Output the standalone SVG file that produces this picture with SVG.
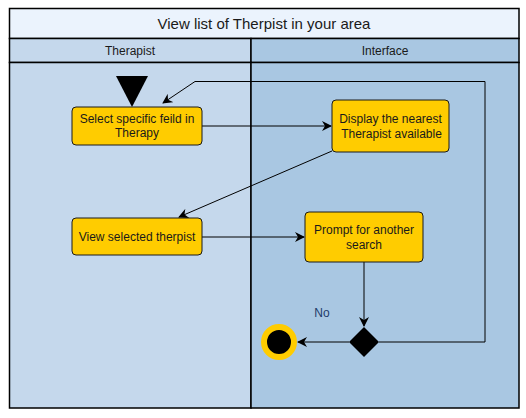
<svg xmlns="http://www.w3.org/2000/svg" width="526" height="418" viewBox="0 0 526 418">
<defs>
<style>
text{font-family:"Liberation Sans",Arial,sans-serif;fill:#1a1a1a;text-anchor:middle}
.node{fill:#FFCC00;stroke:#1a1a1a;stroke-width:1}
.node-text{font-size:12px}
.hdr{font-size:12px}
.conn{fill:none;stroke:#000;stroke-width:1}
.lane{stroke:#000;stroke-width:1.5}
</style>
<marker id="arr" viewBox="0 0 10 10" refX="9" refY="5" markerWidth="10" markerHeight="10" markerUnits="userSpaceOnUse" orient="auto">
<path d="M0,0 L10,5 L0,10 L3,5 Z" fill="#000"/>
</marker>
</defs>
<g id="pool">
<rect x="9.5" y="8.5" width="509.5" height="30" fill="#EBF3FD" class="lane"/>
<rect x="9.5" y="38.5" width="241.5" height="24" fill="#C5D8EC" class="lane"/>
<rect x="251" y="38.5" width="268" height="24" fill="#A9C7E2" class="lane"/>
<rect x="9.5" y="62.5" width="241.5" height="345.5" fill="#C5D8EC" class="lane"/>
<rect x="251" y="62.5" width="268" height="345.5" fill="#A9C7E2" class="lane"/>
<text x="264" y="29" style="font-size:15px">View list of Therpist in your area</text>
<text x="130" y="55" class="hdr">Therapist</text>
<text x="385" y="55" class="hdr">Interface</text>
</g>
<g id="connectors">
<path class="conn" d="M202,126 L331,126" marker-end="url(#arr)"/>
<path class="conn" d="M332,151 L179,217" marker-end="url(#arr)"/>
<path class="conn" d="M202,237 L304,237" marker-end="url(#arr)"/>
<path class="conn" d="M364,262 L364,326" marker-end="url(#arr)"/>
<path class="conn" d="M349,342 L298,342" marker-end="url(#arr)"/>
<path class="conn" d="M379,342 L485,342 L485,81.5 L195,81.5 L163,103" marker-end="url(#arr)"/>
<text x="322" y="317" style="font-size:12px;fill:#1F3B6B">No</text>
</g>
<g id="start">
<polygon points="116,76 148,76 132,107" fill="#000"/>
</g>
<g id="n1">
<rect x="72" y="107" width="130" height="38" rx="4" class="node"/>
<text x="137" y="123" class="node-text">Select specific feild in</text>
<text x="137" y="137" class="node-text">Therapy</text>
</g>
<g id="n2">
<rect x="332" y="100" width="117" height="52" rx="4" class="node"/>
<text x="390.5" y="123" class="node-text">Display the nearest</text>
<text x="391.5" y="138" class="node-text">Therapist available</text>
</g>
<g id="n3">
<rect x="72" y="218" width="130" height="37" rx="4" class="node"/>
<text x="137" y="241" class="node-text">View selected therpist</text>
</g>
<g id="n4">
<rect x="305" y="212" width="118" height="50" rx="4" class="node"/>
<text x="364" y="234" class="node-text">Prompt for another</text>
<text x="364" y="249" class="node-text">search</text>
</g>
<g id="decision">
<polygon points="364,327 379,342 364,357 349,342" fill="#000"/>
</g>
<g id="end">
<circle cx="279" cy="342" r="15" fill="#000" stroke="#FFCC00" stroke-width="6"/>
</g>
</svg>
